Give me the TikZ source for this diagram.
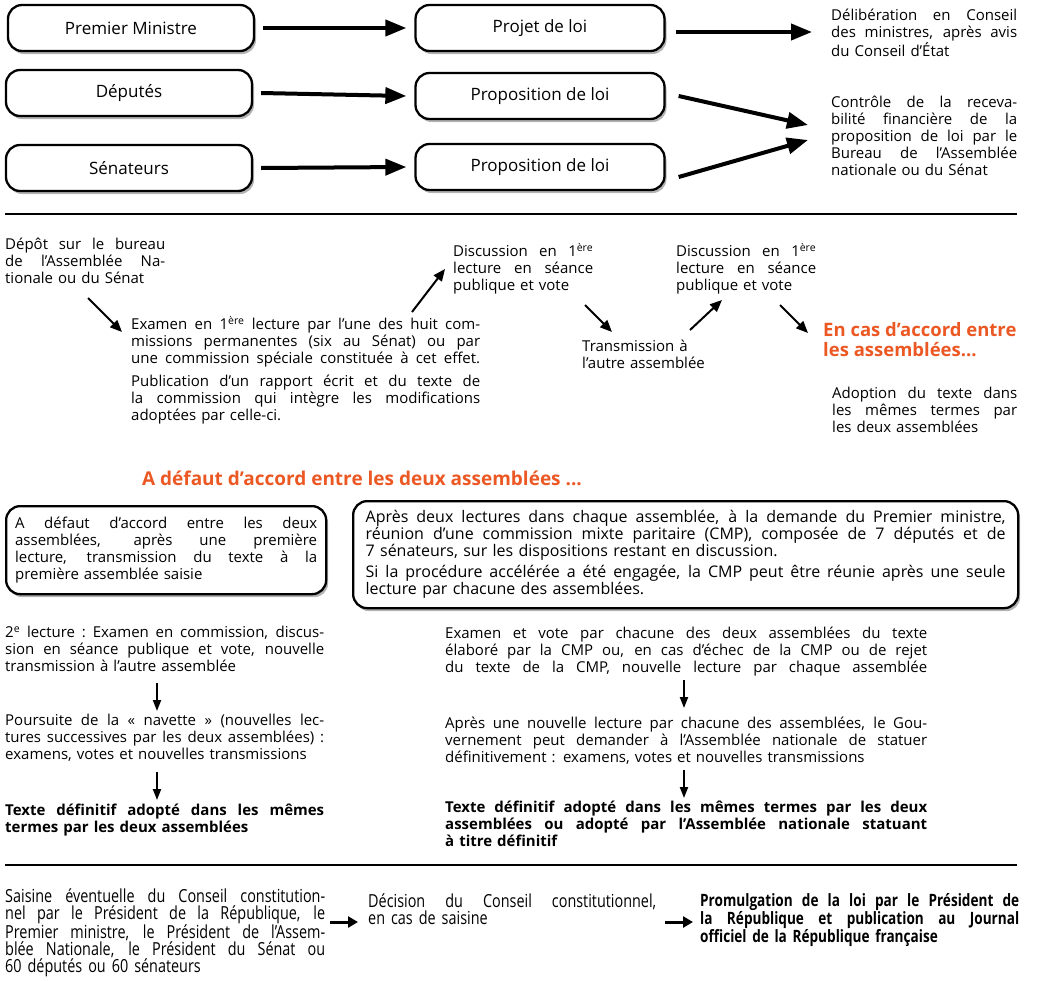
\documentclass[tikz,border=0pt]{standalone}
\usepackage{fontspec}
\setmainfont{Open Sans}
\newfontfamily\narrowfont[FakeStretch=0.8]{Open Sans}
\usepackage{tikz}
\usetikzlibrary{positioning, arrows.meta, shadows}
\definecolor{accent}{RGB}{236, 88, 36}
\setlength{\parindent}{0pt}
% justified line of a text block, width taken from \lw
\newcommand{\jl}[1]{\leavevmode{\spaceskip=0.26em plus 3em minus 0.04em\xspaceskip=\spaceskip\hbox to \lw{#1}}}

\tikzset{
  jw/.code={\def\lw{#1}},
  roundbox/.style={draw, line width=2.3pt, rounded corners=14pt, fill=white,
    drop shadow={shadow xshift=2pt, shadow yshift=-3pt, opacity=0.6}},
  topbox/.style={roundbox, minimum width=246pt, minimum height=46pt, font=\fontsize{17}{19}\selectfont},
  txt/.style={anchor=north west, inner sep=0pt, align=left, text width=#1, jw=#1, font=\fontsize{15}{17}\selectfont},
  boldtxt/.style={txt=#1, font=\bfseries\fontsize{15}{17}\selectfont},
  narrowtxt/.style={txt=#1, font=\narrowfont\fontsize{18}{17}\selectfont},
  accenttxt/.style={anchor=north west, inner sep=0pt, align=left, text=accent, font=\bfseries\fontsize{18.5}{20}\selectfont},
  bigarrow/.style={line width=4pt, -{Triangle[length=21pt, width=16pt]}},
  midarrow/.style={line width=2pt, -{Triangle[length=12pt, width=10pt]}},
  downarrow/.style={line width=2pt, -{Triangle[length=11pt, width=8pt]}},
  smallarrow/.style={line width=3pt, -{Triangle[length=10pt, width=11pt]}},
  rule/.style={line width=2pt}
}

\begin{document}
\begin{tikzpicture}[x=1pt, y=-1pt]
  \useasboundingbox (0,0) rectangle (1044,980);

  % who proposes
  \node[topbox] (pm) at (131,28) {Premier Ministre};
  \node[topbox] (dep) at (129,93) {Députés};
  \node[topbox] (sen) at (129,168) {Sénateurs};

  \node[topbox, minimum width=249pt] (projet) at (540,28) {Projet de loi};
  \node[topbox, minimum width=249pt] (propan) at (540,96) {Proposition de loi};
  \node[topbox, minimum width=249pt] (propsen) at (540,167) {Proposition de loi};

  \node[txt=186pt] (delib) at (831,9) {\jl{Délibération en Conseil}\\ \jl{des ministres, après avis}\\ du Conseil d’État};
  \node[txt=186pt] (ctrl) at (831,96) {\jl{Contrôle de la receva-}\\ \jl{bilité financière de la}\\ \jl{proposition de loi par le}\\ \jl{Bureau de l’Assemblée}\\ nationale ou du Sénat};

  \draw[bigarrow] ([xshift=8pt]pm.east) -- ([xshift=-8pt]projet.west);
  \draw[bigarrow] ([xshift=8pt]dep.east) -- ([xshift=-8pt]propan.west);
  \draw[bigarrow] ([xshift=8pt]sen.east) -- ([xshift=-8pt]propsen.west);
  \draw[bigarrow] ([shift={(10,4)}]projet.east) -- ([shift={(-19,23)}]delib.north west);
  \draw[bigarrow] ([shift={(13,0)}]propan.east) -- ([shift={(-23,29)}]ctrl.north west);
  \draw[bigarrow] ([shift={(13,10)}]propsen.east) -- ([shift={(-23,44)}]ctrl.north west);

  \draw[rule] (5,214) -- (1017,214);

  % first reading
  \node[txt=160pt] (depot) at (5,238) {\jl{Dépôt sur le bureau}\\ \jl{de l’Assemblée Na-}\\ tionale ou du Sénat};
  \node[txt=349pt] (exam) at (131,316) {\jl{Examen en 1\textsuperscript{ère} lecture par l’une des huit com-}\\
    \jl{missions permanentes (six au Sénat) ou par}\\
    \jl{une commission spéciale constituée à cet effet.}\\[6pt]
    \jl{Publication d’un rapport écrit et du texte de}\\
    \jl{la commission qui intègre les modifications}\\
    adoptées par celle-ci.};
  \node[txt=140pt] (disc1) at (453,243) {\jl{Discussion en 1\textsuperscript{ère}}\\ \jl{lecture en séance}\\ publique et vote};
  \node[txt=140pt] (transm) at (582,340) {Transmission à\\ l’autre assemblée};
  \node[txt=140pt] (disc2) at (676,243) {\jl{Discussion en 1\textsuperscript{ère}}\\ \jl{lecture en séance}\\ publique et vote};
  \node[accenttxt] (accord) at (823,322) {En cas d’accord entre\\ les assemblées...};
  \node[txt=185pt] (adopt) at (832,387) {\jl{Adoption du texte dans}\\ \jl{les mêmes termes par}\\ les deux assemblées};

  \draw[midarrow] ([shift={(83,60)}]depot.north west) -- ([shift={(-9,16)}]exam.north west);
  \draw[midarrow] ([shift={(281,-4)}]exam.north west) -- ([shift={(-8,26)}]disc1.north west);
  \draw[midarrow] ([shift={(132,62)}]disc1.north west) -- ([shift={(30,-8)}]transm.north west);
  \draw[midarrow] ([shift={(108,-10)}]transm.north west) -- ([shift={(46,57)}]disc2.north west);
  \draw[midarrow] ([shift={(104,62)}]disc2.north west) -- ([shift={(-15,11)}]accord.north west);

  % no agreement
  \node[accenttxt, anchor=center, font=\bfseries\fontsize{19}{21}\selectfont] (defaut) at (362,478) {A défaut d’accord entre les deux assemblées ...};

  \node[roundbox, anchor=north west, text width=302pt, jw=302pt, inner xsep=9pt, minimum height=88pt, align=left,
    font=\fontsize{15}{17}\selectfont] (navbox) at (5,505)
    {\jl{A défaut d’accord entre les deux}\\ \jl{assemblées, après une première}\\ \jl{lecture, transmission du texte à la}\\ première assemblée saisie};
  \node[roundbox, anchor=north west, text width=640pt, jw=640pt, inner xsep=12.5pt, minimum height=107pt, align=left,
    font=\fontsize{16}{17}\selectfont] (cmpbox) at (352,500)
    {\jl{Après deux lectures dans chaque assemblée, à la demande du Premier ministre,}\\
     \jl{réunion d’une commission mixte paritaire (CMP), composée de 7 députés et de}\\
     7 sénateurs, sur les dispositions restant en discussion.\\[4pt]
     \jl{Si la procédure accélérée a été engagée, la CMP peut être réunie après une seule}\\
     lecture par chacune des assemblées.};

  \node[txt=319pt] (second) at (5,626) {\jl{2\textsuperscript{e} lecture : Examen en commission, discus-}\\ \jl{sion en séance publique et vote, nouvelle}\\ transmission à l’autre assemblée};
  \node[txt=319pt] (navette) at (5,714) {\jl{Poursuite de la «~navette~» (nouvelles lec-}\\ \jl{tures successives par les deux assemblées) :}\\ examens, votes et nouvelles transmissions};
  \node[boldtxt=319pt] (defl) at (5,804) {\jl{Texte définitif adopté dans les mêmes}\\ termes par les deux assemblées};

  \node[txt=482pt] (cmpvote) at (445,627) {\jl{Examen et vote par chacune des deux assemblées du texte}\\ \jl{élaboré par la CMP ou, en cas d’échec de la CMP ou de rejet}\\ \jl{du texte de la CMP, nouvelle lecture par chaque assemblée}};
  \node[txt=482pt] (apres) at (445,717) {\jl{Après une nouvelle lecture par chacune des assemblées, le Gou-}\\ \jl{vernement peut demander à l’Assemblée nationale de statuer}\\ définitivement : examens, votes et nouvelles transmissions};
  \node[boldtxt=482pt] (defr) at (445,801) {\jl{Texte définitif adopté dans les mêmes termes par les deux}\\ \jl{assemblées ou adopté par l’Assemblée nationale statuant}\\ à titre définitif};

  \draw[downarrow] ([shift={(152,57)}]second.north west) -- ([shift={(152,-3)}]navette.north west);
  \draw[downarrow] ([shift={(152,58)}]navette.north west) -- ([shift={(152,-4)}]defl.north west);
  \draw[downarrow] ([shift={(239,53)}]cmpvote.north west) -- ([shift={(239,-9)}]apres.north west);
  \draw[downarrow] ([shift={(239,53)}]apres.north west) -- ([shift={(239,-3)}]defr.north west);

  \draw[rule] (5,865) -- (1017,865);

  % promulgation
  \node[narrowtxt=320pt] (saisine) at (5,888) {\jl{Saisine éventuelle du Conseil constitution-}\\ \jl{nel par le Président de la République, le}\\ \jl{Premier ministre, le Président de l’Assem-}\\ \jl{blée Nationale, le Président du Sénat ou}\\ 60 députés ou 60 sénateurs};
  \node[narrowtxt=288pt] (decision) at (368,893) {\jl{Décision du Conseil constitutionnel,}\\ en cas de saisine};
  \node[narrowtxt=319pt, font=\narrowfont\bfseries\fontsize{17}{17}\selectfont] (promul) at (700,893) {\jl{Promulgation de la loi par le Président de}\\ \jl{la République et publication au Journal}\\ officiel de la République française};

  \coordinate (sais) at ([shift={(5,34)}]saisine.north east);
  \coordinate (deci) at ([shift={(9,29)}]decision.north east);
  \draw[smallarrow, shorten >=10pt] (sais) -- (sais -| decision.west);
  \draw[smallarrow, shorten >=7pt] (deci) -- (deci -| promul.west);
\end{tikzpicture}
\end{document}
